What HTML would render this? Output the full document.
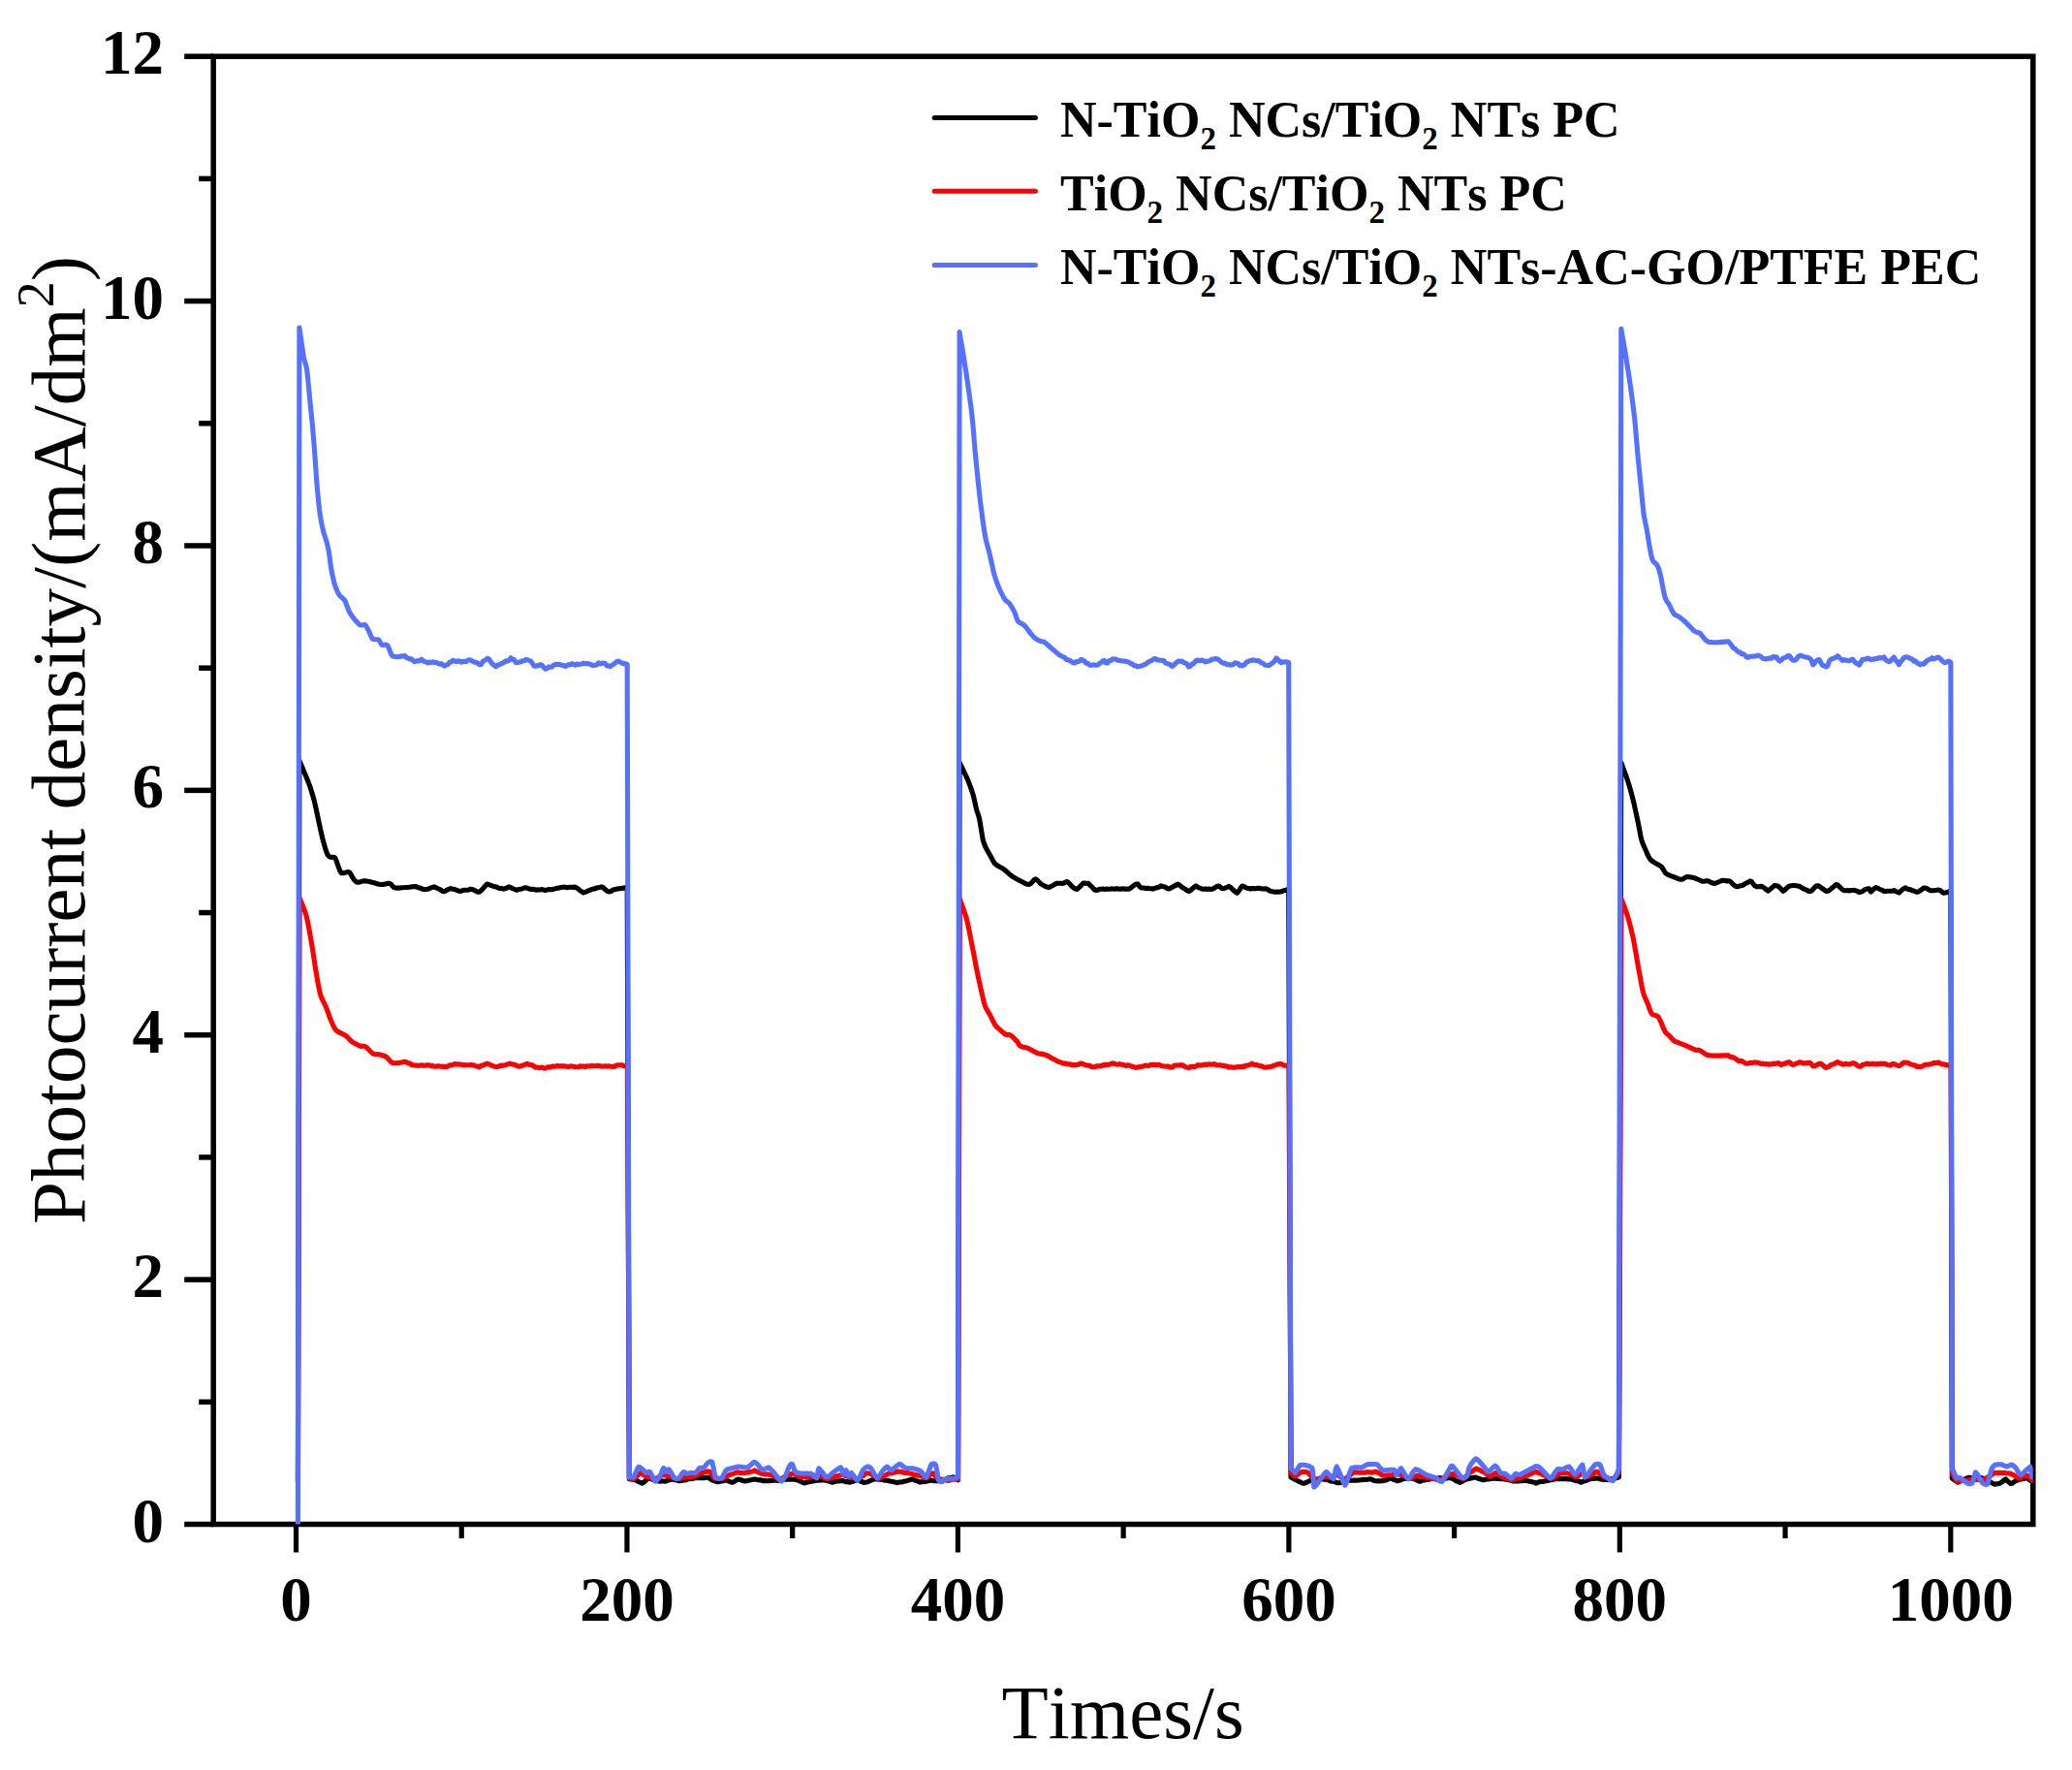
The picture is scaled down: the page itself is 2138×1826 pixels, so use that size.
<!DOCTYPE html>
<html lang="en"><head><meta charset="utf-8"><title>Photocurrent density vs time</title>
<style>
html,body{margin:0;padding:0;background:#fff;}
body{width:2138px;height:1826px;overflow:hidden;}
svg{display:block;}
text{font-kerning:none;font-variant-ligatures:none;}
.tk{font-family:"Liberation Serif",serif;font-weight:bold;font-size:65px;fill:#000;}
.lg{font-family:"Liberation Serif",serif;font-weight:bold;font-size:52px;fill:#000;}
.ax{font-family:"Liberation Serif",serif;font-weight:normal;font-size:79px;fill:#000;}
.ln{fill:none;stroke-width:5.1;stroke-linejoin:round;stroke-linecap:round;}
.fr{stroke:#000;stroke-width:5.5;fill:none;stroke-linecap:butt;}
</style></head><body>
<svg width="2138" height="1826" viewBox="0 0 2138 1826">
<rect x="0" y="0" width="2138" height="1826" fill="#ffffff"/>
<defs><clipPath id="plotclip"><rect x="220.2" y="58.2" width="1877.6" height="1514.3"/></clipPath></defs>
<g class="fr">
<rect x="220.2" y="58.2" width="1877.6" height="1514.3"/>
<line x1="190.2" y1="1572.50" x2="220.2" y2="1572.50"/>
<line x1="205.2" y1="1446.31" x2="220.2" y2="1446.31"/>
<line x1="190.2" y1="1320.12" x2="220.2" y2="1320.12"/>
<line x1="205.2" y1="1193.92" x2="220.2" y2="1193.92"/>
<line x1="190.2" y1="1067.73" x2="220.2" y2="1067.73"/>
<line x1="205.2" y1="941.54" x2="220.2" y2="941.54"/>
<line x1="190.2" y1="815.35" x2="220.2" y2="815.35"/>
<line x1="205.2" y1="689.16" x2="220.2" y2="689.16"/>
<line x1="190.2" y1="562.97" x2="220.2" y2="562.97"/>
<line x1="205.2" y1="436.78" x2="220.2" y2="436.78"/>
<line x1="190.2" y1="310.58" x2="220.2" y2="310.58"/>
<line x1="205.2" y1="184.39" x2="220.2" y2="184.39"/>
<line x1="190.2" y1="58.20" x2="220.2" y2="58.20"/>
<line x1="305.50" y1="1572.5" x2="305.50" y2="1601.5" stroke-width="5.2"/>
<line x1="476.23" y1="1572.5" x2="476.23" y2="1587.0" stroke-width="5.2"/>
<line x1="646.96" y1="1572.5" x2="646.96" y2="1601.5" stroke-width="5.2"/>
<line x1="817.69" y1="1572.5" x2="817.69" y2="1587.0" stroke-width="5.2"/>
<line x1="988.42" y1="1572.5" x2="988.42" y2="1601.5" stroke-width="5.2"/>
<line x1="1159.15" y1="1572.5" x2="1159.15" y2="1587.0" stroke-width="5.2"/>
<line x1="1329.88" y1="1572.5" x2="1329.88" y2="1601.5" stroke-width="5.2"/>
<line x1="1500.61" y1="1572.5" x2="1500.61" y2="1587.0" stroke-width="5.2"/>
<line x1="1671.34" y1="1572.5" x2="1671.34" y2="1601.5" stroke-width="5.2"/>
<line x1="1842.07" y1="1572.5" x2="1842.07" y2="1587.0" stroke-width="5.2"/>
<line x1="2012.80" y1="1572.5" x2="2012.80" y2="1601.5" stroke-width="5.2"/>
</g>
<g clip-path="url(#plotclip)">
<polyline class="ln" stroke="#000000" points="307.4,1528.0 308.9,784.9 311.5,790.8 314.1,796.9 316.5,802.7 318.4,807.5 320.0,811.9 321.5,816.6 322.9,821.3 324.1,825.5 325.2,830.1 326.4,835.6 327.6,841.1 328.6,845.9 329.6,850.7 330.8,856.3 332.1,861.8 333.1,866.2 334.2,870.1 335.4,874.4 336.6,878.2 337.6,880.9 338.5,882.4 339.3,883.3 340.2,883.9 341.0,884.3 342.0,884.4 343.3,884.3 344.5,884.2 345.5,884.7 346.4,886.3 347.3,888.7 348.2,891.3 348.9,893.3 349.6,895.2 350.4,897.4 351.3,899.4 352.3,900.6 354.0,900.7 356.2,900.2 358.5,899.6 360.2,899.7 361.3,900.7 362.3,902.4 363.2,904.3 364.1,905.8 365.0,907.0 366.1,908.4 367.4,909.6 368.6,910.3 370.1,910.2 372.1,909.6 374.2,909.0 376.0,908.7 377.8,908.9 379.9,909.3 382.1,909.8 384.0,910.3 386.0,910.8 388.4,911.5 390.9,912.2 393.0,912.5 395.1,912.4 397.7,911.9 400.1,911.4 402.0,911.4 403.4,912.2 404.6,913.6 405.9,915.1 407.7,915.9 410.8,916.1 415.3,915.8 419.6,915.5 422.4,915.3 424.1,915.0 425.8,914.7 427.5,914.6 429.2,914.6 430.9,915.4 432.6,916.0 434.3,916.3 436.0,917.3 437.7,917.6 439.4,917.5 441.2,917.2 442.9,916.7 444.6,915.9 446.3,915.4 448.0,914.9 449.7,915.6 451.4,916.5 453.1,917.2 454.8,918.1 456.5,919.3 458.2,919.8 459.9,919.0 461.6,917.9 463.3,917.3 465.1,916.5 466.8,917.2 468.5,917.2 470.2,918.1 471.9,918.4 473.6,919.3 475.3,919.4 477.0,918.8 478.7,918.3 480.4,918.3 482.1,918.2 483.8,917.9 485.5,917.2 487.3,917.5 489.0,918.2 490.7,919.1 492.4,920.0 494.1,920.3 495.8,919.3 497.5,917.6 499.2,915.7 500.9,913.8 502.6,912.0 504.3,912.5 506.0,913.3 507.7,913.8 509.4,914.5 511.2,914.8 512.9,915.3 514.6,916.2 516.3,916.5 518.0,916.6 519.7,917.2 521.4,916.5 523.1,916.0 524.8,914.9 526.5,915.2 528.2,916.3 529.9,917.0 531.6,917.7 533.3,918.3 535.1,917.5 536.8,917.3 538.5,916.9 540.2,916.4 541.9,915.7 543.6,916.1 545.3,916.7 547.0,917.2 548.7,917.4 550.4,917.4 552.1,917.9 553.8,918.1 555.5,917.9 557.2,918.0 559.0,917.6 560.7,917.9 562.4,918.5 564.1,918.2 565.8,917.6 567.5,917.6 569.2,917.7 570.9,917.3 572.6,916.9 574.3,916.4 576.0,916.3 577.7,915.7 579.4,915.5 581.2,915.3 582.9,915.1 584.6,915.6 586.3,915.5 588.0,915.3 589.7,915.2 591.4,915.4 593.1,915.1 594.8,915.8 596.5,916.9 598.2,918.5 599.9,919.4 601.6,920.9 603.3,920.5 605.1,919.9 606.8,919.0 608.5,918.3 610.2,917.8 611.9,917.0 613.6,917.0 615.3,916.0 617.0,915.9 618.7,915.4 620.4,914.9 622.1,915.2 623.8,917.1 625.5,918.4 627.2,919.6 629.0,920.0 630.7,919.3 632.4,918.1 634.1,917.8 635.8,917.2 637.5,916.9 639.2,916.7 640.9,916.4 642.6,916.2 644.3,915.9 646.0,915.9 647.2,915.5 649.3,1525.8 655.7,1526.7 657.4,1527.8 659.1,1528.7 660.8,1529.3 662.5,1530.1 664.2,1529.3 665.9,1527.7 667.6,1526.2 669.3,1525.0 671.0,1525.4 672.7,1526.1 674.5,1526.7 676.2,1527.2 677.9,1527.8 679.6,1528.0 681.3,1528.1 683.0,1527.9 684.7,1528.0 686.4,1528.3 688.1,1527.6 689.8,1526.9 691.5,1526.6 693.2,1526.0 694.9,1526.3 696.7,1526.8 698.4,1527.0 700.1,1527.6 701.8,1527.8 703.5,1527.5 705.2,1526.9 706.9,1527.0 708.6,1526.5 710.3,1525.6 712.0,1525.7 713.7,1525.5 715.4,1525.2 717.1,1524.8 718.8,1524.7 720.6,1524.7 722.3,1524.8 724.0,1524.5 725.7,1524.6 727.4,1524.6 729.1,1524.1 730.8,1524.2 732.5,1525.4 734.2,1526.5 735.9,1527.4 737.6,1527.9 739.3,1528.5 741.0,1528.8 742.7,1528.3 744.5,1527.9 746.2,1527.7 747.9,1527.2 749.6,1527.0 751.3,1527.8 753.0,1528.5 754.7,1529.2 756.4,1529.2 758.1,1528.1 759.8,1527.0 761.5,1526.0 763.2,1526.2 764.9,1527.0 766.7,1527.5 768.4,1528.0 770.1,1527.9 771.8,1527.4 773.5,1527.0 775.2,1526.7 776.9,1526.3 778.6,1526.0 780.3,1526.3 782.0,1526.7 783.7,1526.9 785.4,1526.9 787.1,1527.6 788.8,1527.5 790.6,1527.8 792.3,1527.8 794.0,1527.6 795.7,1527.5 797.4,1527.4 799.1,1527.3 800.8,1527.2 802.5,1527.6 804.2,1527.1 805.9,1526.8 807.6,1526.7 809.3,1526.0 811.0,1526.2 812.7,1526.0 814.5,1526.1 816.2,1526.1 817.9,1526.3 819.6,1526.3 821.3,1526.5 823.0,1527.1 824.7,1527.4 826.4,1528.5 828.1,1529.3 829.8,1529.9 831.5,1529.5 833.2,1529.0 834.9,1528.9 836.6,1528.4 838.4,1528.1 840.1,1527.7 841.8,1527.4 843.5,1527.3 845.2,1527.1 846.9,1526.9 848.6,1527.0 850.3,1527.0 852.0,1527.2 853.7,1527.6 855.4,1528.1 857.1,1528.7 858.8,1529.2 860.6,1528.8 862.3,1528.2 864.0,1528.0 865.7,1527.9 867.4,1527.6 869.1,1527.6 870.8,1527.9 872.5,1528.6 874.2,1528.5 875.9,1529.1 877.6,1529.0 879.3,1528.4 881.0,1528.0 882.7,1527.3 884.5,1526.8 886.2,1527.1 887.9,1528.2 889.6,1528.6 891.3,1529.4 893.0,1529.2 894.7,1529.0 896.4,1528.2 898.1,1527.5 899.8,1526.8 901.5,1525.7 903.2,1526.0 904.9,1525.8 906.6,1526.3 908.4,1526.2 910.1,1526.4 911.8,1526.9 913.5,1527.2 915.2,1527.2 916.9,1527.8 918.6,1528.1 920.3,1528.3 922.0,1528.8 923.7,1529.1 925.4,1529.7 927.1,1529.3 928.8,1529.0 930.6,1529.0 932.3,1528.3 934.0,1528.0 935.7,1527.8 937.4,1527.0 939.1,1526.7 940.8,1526.1 942.5,1526.0 944.2,1527.3 945.9,1527.7 947.6,1528.3 949.3,1529.1 951.0,1528.8 952.7,1528.8 954.5,1528.5 956.2,1528.0 957.9,1527.8 959.6,1527.4 961.3,1527.1 963.0,1527.6 964.7,1527.7 966.4,1527.6 968.1,1527.7 969.8,1527.8 971.5,1527.2 973.2,1526.9 974.9,1526.5 976.6,1525.7 978.4,1524.9 980.1,1524.7 981.8,1524.4 983.5,1523.8 985.2,1524.5 986.9,1525.5 988.5,1526.8 990.1,786.7 992.3,791.2 994.6,795.9 996.7,800.3 998.4,804.1 999.9,807.8 1001.5,812.1 1002.9,816.3 1004.1,819.9 1005.0,823.4 1005.9,827.5 1006.7,831.4 1007.5,834.6 1008.2,837.2 1009.2,839.9 1010.1,842.8 1010.8,845.9 1011.6,850.3 1012.5,856.2 1013.5,862.0 1014.2,866.2 1015.0,869.0 1015.9,871.4 1016.8,873.4 1017.6,875.3 1018.6,877.1 1019.8,879.3 1021.1,881.4 1022.1,883.2 1023.1,885.0 1024.2,887.2 1025.4,889.4 1026.7,891.1 1028.5,892.5 1031.0,894.0 1033.6,895.4 1035.7,896.7 1037.6,898.3 1039.7,900.1 1041.7,902.0 1043.6,903.5 1045.6,904.8 1048.1,906.2 1050.5,907.6 1052.7,908.7 1054.8,909.8 1057.3,911.2 1059.7,912.2 1061.7,912.5 1063.4,911.6 1065.3,909.7 1067.0,907.8 1068.5,906.9 1069.8,907.5 1071.2,908.9 1072.7,910.6 1074.1,911.9 1075.8,912.9 1078.0,914.1 1080.2,915.1 1082.0,915.5 1083.9,914.9 1086.1,913.6 1088.2,912.3 1089.9,911.4 1091.5,911.2 1093.2,911.2 1094.6,911.3 1095.6,911.4 1097.3,911.2 1099.0,910.3 1100.7,909.4 1102.4,910.5 1104.1,912.2 1105.8,914.2 1107.5,915.6 1109.3,916.8 1111.0,917.4 1112.7,916.1 1114.4,914.6 1116.1,912.9 1117.8,911.0 1119.5,911.1 1121.2,911.2 1122.9,911.4 1124.6,913.1 1126.3,914.6 1128.0,916.4 1129.7,918.1 1131.4,918.5 1133.2,918.1 1134.9,917.3 1136.6,917.3 1138.3,917.1 1140.0,917.4 1141.7,917.1 1143.4,917.3 1145.1,917.3 1146.8,916.9 1148.5,917.0 1150.2,917.3 1151.9,916.7 1153.6,917.1 1155.3,917.0 1157.1,917.1 1158.8,916.8 1160.5,917.2 1162.2,917.0 1163.9,917.1 1165.6,916.9 1167.3,915.7 1169.0,914.2 1170.7,913.0 1172.4,912.1 1174.1,912.0 1175.8,914.5 1177.5,915.9 1179.3,916.0 1181.0,916.1 1182.7,916.6 1184.4,916.3 1186.1,916.6 1187.8,916.8 1189.5,917.1 1191.2,916.4 1192.9,916.0 1194.6,915.6 1196.3,915.0 1198.0,913.8 1199.7,914.4 1201.4,914.7 1203.2,915.7 1204.9,916.7 1206.6,917.0 1208.3,915.8 1210.0,915.1 1211.7,914.0 1213.4,913.4 1215.1,912.1 1216.8,912.8 1218.5,914.3 1220.2,915.6 1221.9,916.7 1223.6,917.6 1225.3,918.9 1227.1,919.5 1228.8,918.3 1230.5,916.6 1232.2,915.3 1233.9,913.9 1235.6,915.0 1237.3,915.9 1239.0,916.4 1240.7,917.3 1242.4,917.2 1244.1,916.9 1245.8,917.4 1247.5,917.1 1249.3,917.4 1251.0,917.2 1252.7,916.4 1254.4,915.2 1256.1,914.3 1257.8,914.0 1259.5,915.5 1261.2,916.7 1262.9,916.4 1264.6,916.0 1266.3,915.2 1268.0,914.4 1269.7,915.2 1271.4,917.1 1273.2,918.9 1274.9,920.2 1276.6,921.3 1278.3,919.1 1280.0,916.4 1281.7,914.1 1283.4,914.5 1285.1,915.5 1286.8,916.3 1288.5,916.5 1290.2,917.0 1291.9,916.6 1293.6,916.6 1295.3,916.7 1297.1,916.4 1298.8,916.3 1300.5,916.6 1302.2,916.9 1303.9,917.0 1305.6,916.8 1307.3,917.3 1309.0,918.3 1310.7,919.3 1312.4,919.6 1314.1,920.0 1315.8,920.2 1317.5,919.9 1319.2,920.2 1321.0,919.9 1322.7,919.7 1324.4,918.9 1326.1,918.4 1327.8,918.1 1329.7,917.1 1332.0,1524.0 1337.5,1526.9 1339.2,1527.7 1340.9,1528.7 1342.6,1529.4 1344.3,1530.3 1346.0,1530.1 1347.8,1529.4 1349.5,1528.5 1351.2,1527.8 1352.9,1527.0 1354.6,1526.6 1356.3,1526.7 1358.0,1526.3 1359.7,1526.2 1361.4,1525.9 1363.1,1526.0 1364.8,1525.9 1366.5,1526.2 1368.2,1526.4 1369.9,1526.7 1371.7,1527.5 1373.4,1527.9 1375.1,1528.3 1376.8,1528.4 1378.5,1529.3 1380.2,1529.7 1381.9,1529.8 1383.6,1529.5 1385.3,1529.2 1387.0,1528.5 1388.7,1528.4 1390.4,1527.7 1392.1,1527.3 1393.9,1527.2 1395.6,1527.3 1397.3,1527.1 1399.0,1527.3 1400.7,1527.1 1402.4,1527.0 1404.1,1526.8 1405.8,1526.6 1407.5,1526.4 1409.2,1526.5 1410.9,1526.2 1412.6,1526.0 1414.3,1525.9 1416.0,1526.6 1417.8,1527.4 1419.5,1527.8 1421.2,1527.9 1422.9,1527.7 1424.6,1527.9 1426.3,1527.8 1428.0,1527.3 1429.7,1527.2 1431.4,1526.4 1433.1,1525.5 1434.8,1524.8 1436.5,1525.6 1438.2,1526.4 1439.9,1527.0 1441.7,1527.8 1443.4,1527.3 1445.1,1526.9 1446.8,1526.2 1448.5,1525.5 1450.2,1525.5 1451.9,1525.2 1453.6,1525.3 1455.3,1525.0 1457.0,1525.0 1458.7,1525.7 1460.4,1526.0 1462.1,1527.0 1463.8,1527.9 1465.6,1528.2 1467.3,1527.3 1469.0,1527.0 1470.7,1526.9 1472.4,1526.4 1474.1,1526.4 1475.8,1525.8 1477.5,1525.5 1479.2,1525.5 1480.9,1525.2 1482.6,1525.3 1484.3,1524.9 1486.0,1524.9 1487.8,1525.0 1489.5,1525.2 1491.2,1525.1 1492.9,1524.9 1494.6,1524.7 1496.3,1524.8 1498.0,1525.1 1499.7,1525.9 1501.4,1527.0 1503.1,1528.1 1504.8,1528.6 1506.5,1529.5 1508.2,1528.6 1509.9,1527.5 1511.7,1526.6 1513.4,1525.9 1515.1,1525.7 1516.8,1525.3 1518.5,1524.6 1520.2,1524.7 1521.9,1524.0 1523.6,1524.2 1525.3,1525.3 1527.0,1525.8 1528.7,1526.3 1530.4,1526.7 1532.1,1526.4 1533.8,1526.0 1535.6,1526.0 1537.3,1525.7 1539.0,1525.5 1540.7,1525.2 1542.4,1525.1 1544.1,1525.4 1545.8,1525.2 1547.5,1525.6 1549.2,1525.5 1550.9,1525.6 1552.6,1525.9 1554.3,1526.4 1556.0,1526.5 1557.8,1527.0 1559.5,1527.2 1561.2,1527.9 1562.9,1527.8 1564.6,1527.9 1566.3,1528.1 1568.0,1527.8 1569.7,1527.5 1571.4,1527.6 1573.1,1527.3 1574.8,1527.4 1576.5,1527.8 1578.2,1528.2 1579.9,1528.5 1581.7,1529.0 1583.4,1529.3 1585.1,1530.1 1586.8,1529.3 1588.5,1528.8 1590.2,1528.5 1591.9,1528.4 1593.6,1528.2 1595.3,1527.6 1597.0,1527.5 1598.7,1527.1 1600.4,1526.8 1602.1,1526.3 1603.8,1525.9 1605.6,1525.6 1607.3,1525.6 1609.0,1525.5 1610.7,1525.8 1612.4,1525.6 1614.1,1525.6 1615.8,1525.6 1617.5,1525.9 1619.2,1525.8 1620.9,1525.9 1622.6,1526.5 1624.3,1526.9 1626.0,1527.6 1627.8,1527.7 1629.5,1528.2 1631.2,1529.2 1632.9,1528.7 1634.6,1527.9 1636.3,1527.6 1638.0,1526.8 1639.7,1526.2 1641.4,1525.6 1643.1,1525.2 1644.8,1525.5 1646.5,1525.0 1648.2,1525.0 1649.9,1525.5 1651.7,1526.0 1653.4,1526.2 1655.1,1526.6 1656.8,1526.3 1658.5,1526.6 1660.2,1526.5 1661.9,1526.2 1663.6,1525.8 1665.3,1525.2 1667.0,1525.0 1668.7,1524.4 1670.4,1524.0 1672.8,786.7 1674.5,791.4 1676.4,796.3 1678.1,801.0 1679.5,805.2 1680.9,809.8 1682.5,815.3 1684.0,820.8 1685.2,825.5 1686.3,830.2 1687.5,835.7 1688.7,841.2 1689.7,845.9 1690.7,850.7 1691.8,856.5 1692.8,862.0 1693.8,866.2 1694.8,869.4 1696.0,872.4 1697.3,875.2 1698.3,877.5 1699.3,879.8 1700.4,882.4 1701.6,884.7 1702.8,886.6 1704.4,888.0 1706.4,889.3 1708.5,890.6 1710.1,891.5 1711.3,892.2 1712.5,892.9 1713.6,893.6 1714.6,894.5 1715.6,895.9 1716.7,897.8 1717.9,899.8 1719.1,901.2 1720.7,902.2 1722.9,903.1 1725.1,904.0 1727.0,904.6 1728.9,905.4 1731.1,906.3 1733.2,907.0 1734.9,907.3 1736.3,907.0 1737.7,906.1 1739.2,905.1 1740.6,904.6 1742.3,904.6 1744.4,904.9 1746.6,905.3 1748.5,905.8 1750.3,906.5 1752.5,907.5 1754.7,908.5 1756.4,909.2 1757.8,909.2 1759.3,909.0 1760.7,908.7 1762.0,908.7 1763.5,909.3 1765.3,910.2 1767.2,911.1 1768.8,911.4 1770.7,911.0 1773.1,910.0 1775.3,909.0 1776.7,908.3 1778.4,908.4 1780.1,908.5 1781.8,908.9 1783.6,908.7 1785.3,909.3 1787.0,911.0 1788.7,912.7 1790.4,913.9 1792.1,914.8 1793.8,914.4 1795.5,913.8 1797.2,913.8 1798.9,912.9 1800.6,911.7 1802.3,910.9 1804.0,910.0 1805.7,909.0 1807.5,909.7 1809.2,912.1 1810.9,914.0 1812.6,914.7 1814.3,914.8 1816.0,914.6 1817.7,914.4 1819.4,915.2 1821.1,916.5 1822.8,918.0 1824.5,919.2 1826.2,917.7 1827.9,916.1 1829.6,914.7 1831.4,913.4 1833.1,913.7 1834.8,914.3 1836.5,915.7 1838.2,917.5 1839.9,919.3 1841.6,918.2 1843.3,916.4 1845.0,915.0 1846.7,914.0 1848.4,913.7 1850.1,913.5 1851.8,913.5 1853.6,913.8 1855.3,914.0 1857.0,914.5 1858.7,915.5 1860.4,916.6 1862.1,917.4 1863.8,917.9 1865.5,919.0 1867.2,919.6 1868.9,919.3 1870.6,917.6 1872.3,915.7 1874.0,914.1 1875.7,913.7 1877.5,914.5 1879.2,915.9 1880.9,917.0 1882.6,918.1 1884.3,919.4 1886.0,919.5 1887.7,918.3 1889.4,916.8 1891.1,915.6 1892.8,914.1 1894.5,912.5 1896.2,912.9 1897.9,914.8 1899.6,916.2 1901.4,918.0 1903.1,918.7 1904.8,918.7 1906.5,918.6 1908.2,918.9 1909.9,918.5 1911.6,918.5 1913.3,918.4 1915.0,918.9 1916.7,919.5 1918.4,920.5 1920.1,920.2 1921.8,919.6 1923.6,918.1 1925.3,917.4 1927.0,916.9 1928.7,916.9 1930.4,920.1 1932.1,918.5 1933.8,916.8 1935.5,915.6 1937.2,916.1 1938.9,917.0 1940.6,917.8 1942.3,918.4 1944.0,919.5 1945.7,919.5 1947.5,919.3 1949.2,919.2 1950.9,919.2 1952.6,919.3 1954.3,918.6 1956.0,919.4 1957.7,920.2 1959.4,921.0 1961.1,919.5 1962.8,917.9 1964.5,916.7 1966.2,915.9 1967.9,917.0 1969.6,917.6 1971.4,917.8 1973.1,918.8 1974.8,919.1 1976.5,919.8 1978.2,920.4 1979.9,919.9 1981.6,918.5 1983.3,917.4 1985.0,916.1 1986.7,916.1 1988.4,916.7 1990.1,917.8 1991.8,918.7 1993.6,918.8 1995.3,918.7 1997.0,918.5 1998.7,918.3 2000.4,918.1 2002.1,918.7 2003.8,920.2 2005.5,921.2 2007.2,920.9 2008.9,920.7 2010.6,919.9 2012.9,919.3 2014.3,1525.2 2020.1,1529.2 2021.8,1528.2 2023.5,1527.5 2025.2,1526.7 2026.9,1526.1 2028.7,1525.5 2030.4,1524.6 2032.1,1524.2 2033.8,1524.5 2035.5,1524.7 2037.2,1524.3 2038.9,1524.5 2040.6,1524.5 2042.3,1524.4 2044.0,1524.6 2045.7,1524.9 2047.4,1525.6 2049.1,1526.5 2050.8,1527.8 2052.6,1528.6 2054.3,1529.3 2056.0,1530.2 2057.7,1531.1 2059.4,1531.1 2061.1,1530.8 2062.8,1530.5 2064.5,1529.7 2066.2,1528.6 2067.9,1526.9 2069.6,1525.9 2071.3,1527.7 2073.0,1529.1 2074.7,1530.7 2076.5,1530.1 2078.2,1528.8 2079.9,1527.7 2081.6,1527.2 2083.3,1526.5 2085.0,1526.0 2086.7,1525.7 2088.4,1525.4 2090.1,1525.0 2091.8,1524.5 2093.5,1526.2 2095.2,1527.5 2096.9,1527.8 2098.7,1528.0 2100.0,1527.5"/>
<polyline class="ln" stroke="#ff0000" points="307.5,1526.0 309.1,926.1 311.0,930.9 312.9,935.7 314.7,940.5 316.2,945.3 317.6,951.5 319.1,959.5 320.6,967.7 321.8,974.7 322.9,981.6 324.1,989.7 325.3,997.7 326.3,1004.1 327.4,1009.9 328.5,1016.2 329.7,1022.1 330.8,1026.7 332.1,1030.1 333.7,1033.4 335.2,1036.4 336.5,1039.1 337.6,1042.0 338.8,1045.4 339.9,1048.7 341.0,1051.5 342.2,1054.3 343.6,1057.5 345.1,1060.6 346.7,1062.8 348.8,1064.4 351.8,1065.9 354.7,1067.3 356.8,1068.5 358.3,1069.8 359.7,1071.3 361.1,1072.9 362.5,1074.1 364.4,1075.4 367.0,1076.9 369.6,1078.2 371.5,1079.1 373.0,1079.4 374.4,1079.3 375.8,1079.3 377.2,1079.8 378.9,1081.2 381.1,1083.5 383.3,1085.8 385.1,1087.2 386.5,1087.7 387.9,1087.7 389.3,1087.6 390.7,1087.7 392.5,1088.1 394.6,1088.7 396.8,1089.5 398.6,1090.4 400.2,1091.8 401.8,1093.8 403.6,1095.6 405.4,1096.7 408.2,1096.8 412.0,1096.4 415.6,1095.7 417.9,1095.3 419.6,1095.9 421.3,1096.7 423.0,1097.1 424.7,1098.7 426.4,1098.8 428.1,1099.1 429.8,1099.1 431.5,1099.2 433.2,1099.2 434.9,1098.8 436.6,1099.3 438.3,1099.4 440.0,1098.9 441.8,1098.9 443.5,1098.9 445.2,1099.9 446.9,1099.6 448.6,1100.3 450.3,1100.1 452.0,1099.8 453.7,1099.9 455.4,1100.2 457.1,1100.4 458.8,1100.4 460.5,1100.6 462.2,1099.9 464.0,1098.9 465.7,1098.9 467.4,1098.4 469.1,1097.5 470.8,1098.1 472.5,1097.7 474.2,1098.1 475.9,1098.1 477.6,1098.7 479.3,1098.6 481.0,1098.8 482.7,1098.7 484.4,1098.7 486.1,1098.4 487.9,1098.8 489.6,1099.2 491.3,1100.0 493.0,1100.1 494.7,1101.0 496.4,1099.4 498.1,1099.2 499.8,1098.4 501.5,1097.6 503.2,1097.3 504.9,1098.0 506.6,1098.9 508.3,1099.5 510.0,1100.2 511.8,1100.5 513.5,1100.5 515.2,1099.9 516.9,1099.1 518.6,1099.4 520.3,1098.9 522.0,1098.5 523.7,1097.9 525.4,1097.3 527.1,1097.6 528.8,1097.9 530.5,1098.3 532.2,1098.7 533.9,1099.8 535.7,1100.3 537.4,1099.7 539.1,1099.2 540.8,1098.5 542.5,1098.1 544.2,1097.3 545.9,1098.5 547.6,1098.5 549.3,1098.8 551.0,1100.2 552.7,1101.3 554.4,1101.0 556.1,1101.7 557.9,1101.2 559.6,1101.1 561.3,1102.2 563.0,1102.0 564.7,1101.1 566.4,1100.9 568.1,1101.0 569.8,1100.1 571.5,1100.1 573.2,1100.2 574.9,1099.5 576.6,1100.0 578.3,1099.7 580.0,1099.9 581.8,1099.7 583.5,1100.1 585.2,1100.5 586.9,1100.5 588.6,1099.8 590.3,1100.1 592.0,1100.2 593.7,1100.7 595.4,1100.8 597.1,1100.7 598.8,1099.8 600.5,1100.2 602.2,1100.0 603.9,1100.5 605.7,1099.8 607.4,1100.0 609.1,1099.9 610.8,1099.4 612.5,1099.8 614.2,1099.8 615.9,1099.5 617.6,1099.4 619.3,1099.7 621.0,1100.2 622.7,1100.0 624.4,1099.9 626.1,1100.1 627.9,1099.8 629.6,1100.1 631.3,1100.2 633.0,1100.5 634.7,1100.0 636.4,1098.9 638.1,1098.8 639.8,1098.8 641.5,1098.7 643.2,1099.4 644.9,1099.8 647.4,1100.1 649.5,1524.9 653.8,1525.9 655.5,1524.1 657.3,1522.5 659.0,1521.1 660.7,1519.6 662.4,1520.6 664.1,1521.6 665.8,1522.5 667.5,1523.5 669.2,1523.9 670.9,1524.4 672.6,1525.2 674.3,1525.3 676.0,1525.9 677.7,1524.8 679.5,1524.2 681.2,1522.9 682.9,1522.0 684.6,1521.3 686.3,1521.9 688.0,1522.4 689.7,1523.2 691.4,1523.2 693.1,1523.8 694.8,1524.8 696.5,1525.1 698.2,1526.0 699.9,1525.6 701.6,1525.4 703.4,1525.0 705.1,1524.4 706.8,1524.2 708.5,1523.7 710.2,1523.6 711.9,1523.8 713.6,1523.7 715.3,1523.0 717.0,1522.5 718.7,1522.0 720.4,1521.1 722.1,1520.3 723.8,1519.7 725.5,1519.2 727.3,1518.7 729.0,1518.1 730.7,1517.9 732.4,1518.3 734.1,1520.7 735.8,1523.1 737.5,1525.2 739.2,1525.0 740.9,1525.2 742.6,1525.4 744.3,1525.6 746.0,1525.4 747.7,1524.4 749.5,1523.7 751.2,1522.2 752.9,1521.4 754.6,1520.8 756.3,1520.4 758.0,1519.8 759.7,1519.1 761.4,1518.7 763.1,1519.4 764.8,1519.3 766.5,1519.6 768.2,1519.7 769.9,1519.1 771.6,1519.2 773.4,1518.4 775.1,1518.3 776.8,1517.9 778.5,1516.9 780.2,1517.7 781.9,1518.6 783.6,1519.2 785.3,1520.2 787.0,1520.3 788.7,1520.9 790.4,1521.1 792.1,1520.8 793.8,1521.4 795.5,1521.4 797.3,1522.4 799.0,1523.4 800.7,1524.2 802.4,1525.6 804.1,1525.7 805.8,1525.5 807.5,1524.7 809.2,1523.8 810.9,1523.2 812.6,1522.1 814.3,1521.5 816.0,1520.8 817.7,1520.3 819.4,1520.1 821.2,1521.3 822.9,1522.5 824.6,1523.6 826.3,1523.5 828.0,1523.6 829.7,1523.6 831.4,1523.9 833.1,1524.0 834.8,1523.9 836.5,1524.0 838.2,1523.9 839.9,1523.3 841.6,1522.5 843.4,1522.1 845.1,1522.1 846.8,1523.0 848.5,1523.9 850.2,1524.4 851.9,1525.2 853.6,1525.5 855.3,1525.4 857.0,1525.1 858.7,1524.3 860.4,1523.8 862.1,1523.2 863.8,1522.8 865.5,1522.3 867.3,1521.9 869.0,1521.6 870.7,1522.1 872.4,1522.2 874.1,1522.7 875.8,1523.9 877.5,1524.1 879.2,1524.1 880.9,1524.8 882.6,1525.1 884.3,1525.7 886.0,1525.4 887.7,1524.2 889.4,1523.0 891.2,1522.1 892.9,1520.2 894.6,1519.8 896.3,1520.0 898.0,1520.3 899.7,1520.8 901.4,1522.4 903.1,1523.2 904.8,1524.5 906.5,1525.6 908.2,1524.5 909.9,1524.1 911.6,1522.7 913.4,1522.1 915.1,1521.1 916.8,1520.1 918.5,1519.8 920.2,1519.9 921.9,1519.3 923.6,1518.6 925.3,1518.5 927.0,1517.9 928.7,1518.2 930.4,1518.4 932.1,1519.0 933.8,1519.4 935.5,1519.3 937.3,1519.8 939.0,1520.1 940.7,1520.4 942.4,1521.2 944.1,1521.3 945.8,1521.9 947.5,1522.1 949.2,1522.2 950.9,1522.9 952.6,1523.7 954.3,1524.3 956.0,1524.8 957.7,1523.7 959.4,1521.5 961.2,1520.0 962.9,1519.9 964.6,1522.0 966.3,1524.3 968.0,1525.6 969.7,1525.8 971.4,1526.3 973.1,1526.3 974.8,1526.8 976.5,1527.1 978.2,1527.5 979.9,1527.0 981.6,1526.6 983.4,1526.3 985.1,1525.9 986.8,1526.1 988.7,1525.8 990.3,927.2 992.1,932.4 994.0,937.6 995.8,942.7 997.3,947.6 998.7,953.4 1000.2,960.7 1001.7,968.2 1002.9,974.7 1004.3,981.5 1005.8,989.7 1007.3,997.7 1008.6,1004.1 1009.7,1009.4 1011.0,1015.0 1012.1,1020.3 1013.1,1024.4 1013.9,1028.0 1014.7,1031.7 1015.6,1035.1 1016.5,1038.0 1017.7,1040.5 1019.3,1043.3 1020.9,1045.9 1022.1,1048.1 1023.2,1050.4 1024.4,1052.9 1025.6,1055.3 1026.7,1057.2 1027.9,1058.7 1029.4,1060.2 1031.0,1061.6 1032.3,1062.8 1033.6,1064.0 1035.2,1065.3 1036.7,1066.5 1038.0,1067.3 1039.0,1067.6 1040.2,1067.5 1041.3,1067.4 1042.5,1067.8 1044.0,1069.0 1045.9,1070.7 1047.8,1072.6 1049.3,1074.1 1050.2,1075.4 1050.9,1076.8 1051.7,1078.1 1052.7,1079.1 1054.2,1079.7 1056.3,1080.2 1058.5,1080.7 1060.6,1081.4 1062.8,1082.5 1065.6,1084.0 1068.5,1085.5 1070.7,1086.6 1072.7,1087.1 1074.9,1087.4 1076.9,1087.7 1078.6,1088.1 1080.3,1088.9 1082.1,1089.8 1083.9,1090.9 1085.4,1091.8 1087.1,1092.6 1089.2,1093.7 1091.0,1094.7 1092.2,1095.3 1093.9,1095.8 1095.6,1096.4 1097.3,1097.3 1099.0,1096.9 1100.7,1097.6 1102.4,1097.9 1104.2,1097.8 1105.9,1098.8 1107.6,1098.6 1109.3,1098.6 1111.0,1098.5 1112.7,1098.3 1114.4,1097.3 1116.1,1097.1 1117.8,1097.8 1119.5,1098.5 1121.2,1099.0 1122.9,1099.1 1124.6,1099.5 1126.3,1100.5 1128.1,1100.8 1129.8,1100.6 1131.5,1099.9 1133.2,1099.9 1134.9,1099.5 1136.6,1099.8 1138.3,1098.5 1140.0,1098.9 1141.7,1098.2 1143.4,1098.4 1145.1,1098.1 1146.8,1097.3 1148.5,1096.9 1150.3,1097.6 1152.0,1098.0 1153.7,1098.2 1155.4,1097.6 1157.1,1098.3 1158.8,1098.4 1160.5,1098.9 1162.2,1099.5 1163.9,1098.8 1165.6,1099.2 1167.3,1100.0 1169.0,1100.5 1170.7,1101.0 1172.4,1101.4 1174.2,1100.9 1175.9,1100.8 1177.6,1100.3 1179.3,1100.2 1181.0,1099.4 1182.7,1099.1 1184.4,1099.6 1186.1,1099.2 1187.8,1098.2 1189.5,1098.4 1191.2,1098.2 1192.9,1098.9 1194.6,1098.5 1196.3,1098.5 1198.1,1099.4 1199.8,1099.7 1201.5,1100.0 1203.2,1100.2 1204.9,1099.9 1206.6,1100.7 1208.3,1101.2 1210.0,1100.9 1211.7,1099.2 1213.4,1099.0 1215.1,1099.0 1216.8,1098.9 1218.5,1098.7 1220.3,1098.9 1222.0,1100.1 1223.7,1101.0 1225.4,1101.2 1227.1,1101.7 1228.8,1100.3 1230.5,1100.3 1232.2,1100.7 1233.9,1100.1 1235.6,1098.9 1237.3,1098.7 1239.0,1099.1 1240.7,1098.6 1242.4,1098.5 1244.2,1098.1 1245.9,1098.4 1247.6,1097.8 1249.3,1098.1 1251.0,1098.1 1252.7,1097.6 1254.4,1098.5 1256.1,1098.7 1257.8,1098.7 1259.5,1098.8 1261.2,1099.4 1262.9,1099.3 1264.6,1099.9 1266.3,1100.1 1268.1,1101.2 1269.8,1100.8 1271.5,1101.2 1273.2,1101.0 1274.9,1101.1 1276.6,1100.6 1278.3,1100.5 1280.0,1100.8 1281.7,1100.3 1283.4,1100.6 1285.1,1099.3 1286.8,1099.2 1288.5,1098.8 1290.3,1098.2 1292.0,1097.2 1293.7,1098.5 1295.4,1098.6 1297.1,1098.6 1298.8,1099.3 1300.5,1099.9 1302.2,1099.7 1303.9,1101.0 1305.6,1101.2 1307.3,1100.9 1309.0,1100.8 1310.7,1100.5 1312.4,1100.3 1314.2,1099.4 1315.9,1098.9 1317.6,1098.0 1319.3,1097.9 1321.0,1097.5 1322.7,1097.7 1324.4,1099.0 1326.1,1099.2 1327.8,1099.5 1329.9,1099.7 1332.2,1519.4 1335.7,1523.1 1337.4,1522.2 1339.1,1521.2 1340.8,1519.9 1342.5,1518.7 1344.2,1518.5 1345.9,1518.4 1347.6,1518.5 1349.3,1518.9 1351.0,1520.6 1352.7,1522.8 1354.5,1524.8 1356.2,1526.4 1357.9,1525.8 1359.6,1525.6 1361.3,1525.3 1363.0,1524.4 1364.7,1524.0 1366.4,1524.2 1368.1,1523.8 1369.8,1523.6 1371.5,1523.9 1373.2,1523.5 1374.9,1522.8 1376.7,1522.4 1378.4,1521.5 1380.1,1521.4 1381.8,1522.6 1383.5,1524.0 1385.2,1525.1 1386.9,1527.0 1388.6,1525.7 1390.3,1523.7 1392.0,1522.8 1393.7,1521.3 1395.4,1519.9 1397.1,1518.9 1398.8,1518.9 1400.6,1519.0 1402.3,1519.3 1404.0,1519.0 1405.7,1519.3 1407.4,1519.3 1409.1,1518.9 1410.8,1518.6 1412.5,1518.8 1414.2,1519.1 1415.9,1519.1 1417.6,1518.6 1419.3,1518.2 1421.0,1518.9 1422.7,1519.7 1424.5,1520.6 1426.2,1521.8 1427.9,1522.3 1429.6,1522.1 1431.3,1522.0 1433.0,1521.8 1434.7,1521.7 1436.4,1521.5 1438.1,1521.2 1439.8,1521.0 1441.5,1520.9 1443.2,1520.9 1444.9,1521.1 1446.7,1521.6 1448.4,1522.7 1450.1,1523.4 1451.8,1524.4 1453.5,1525.4 1455.2,1525.3 1456.9,1524.5 1458.6,1523.7 1460.3,1523.0 1462.0,1522.2 1463.7,1522.5 1465.4,1522.6 1467.1,1523.6 1468.8,1523.6 1470.6,1524.1 1472.3,1524.5 1474.0,1524.7 1475.7,1524.9 1477.4,1525.2 1479.1,1525.4 1480.8,1525.7 1482.5,1526.6 1484.2,1526.6 1485.9,1526.7 1487.6,1526.0 1489.3,1524.4 1491.0,1523.8 1492.7,1522.8 1494.5,1521.9 1496.2,1521.0 1497.9,1520.9 1499.6,1520.3 1501.3,1520.5 1503.0,1521.8 1504.7,1522.4 1506.4,1523.8 1508.1,1525.0 1509.8,1525.9 1511.5,1524.2 1513.2,1522.4 1514.9,1521.0 1516.6,1519.3 1518.4,1518.3 1520.1,1517.1 1521.8,1515.9 1523.5,1515.1 1525.2,1515.9 1526.9,1516.6 1528.6,1517.6 1530.3,1518.4 1532.0,1519.2 1533.7,1520.4 1535.4,1521.6 1537.1,1523.1 1538.8,1522.5 1540.6,1521.2 1542.3,1519.9 1544.0,1519.3 1545.7,1520.7 1547.4,1521.9 1549.1,1523.0 1550.8,1523.9 1552.5,1524.8 1554.2,1524.8 1555.9,1525.6 1557.6,1526.1 1559.3,1526.5 1561.0,1526.7 1562.7,1525.9 1564.5,1525.5 1566.2,1525.0 1567.9,1524.9 1569.6,1524.1 1571.3,1523.5 1573.0,1522.5 1574.7,1522.5 1576.4,1521.8 1578.1,1521.2 1579.8,1520.5 1581.5,1519.4 1583.2,1518.9 1584.9,1518.3 1586.6,1519.3 1588.4,1519.7 1590.1,1520.2 1591.8,1521.3 1593.5,1522.1 1595.2,1522.6 1596.9,1523.8 1598.6,1524.7 1600.3,1525.4 1602.0,1525.0 1603.7,1523.8 1605.4,1523.1 1607.1,1521.9 1608.8,1520.8 1610.6,1519.9 1612.3,1519.4 1614.0,1519.6 1615.7,1520.0 1617.4,1519.9 1619.1,1520.4 1620.8,1520.8 1622.5,1521.6 1624.2,1523.2 1625.9,1523.8 1627.6,1523.0 1629.3,1522.2 1631.0,1521.1 1632.7,1520.4 1634.5,1520.4 1636.2,1521.9 1637.9,1523.7 1639.6,1523.2 1641.3,1521.8 1643.0,1521.1 1644.7,1520.0 1646.4,1518.5 1648.1,1518.3 1649.8,1519.6 1651.5,1520.8 1653.2,1522.3 1654.9,1523.6 1656.6,1524.0 1658.4,1524.5 1660.1,1525.3 1661.8,1525.9 1663.5,1526.2 1665.2,1525.1 1666.9,1523.2 1668.6,1521.3 1670.6,1519.4 1673.0,927.2 1674.7,931.8 1676.5,936.5 1678.1,941.0 1679.5,945.3 1680.9,950.1 1682.4,955.9 1683.9,962.1 1685.2,967.9 1686.5,974.9 1688.1,983.7 1689.6,992.5 1690.8,999.5 1692.0,1005.7 1693.2,1012.4 1694.3,1018.6 1695.4,1023.3 1696.4,1026.6 1697.6,1029.5 1698.8,1032.2 1699.9,1034.6 1700.9,1037.3 1702.0,1040.6 1703.2,1043.7 1704.4,1045.9 1705.8,1046.9 1707.7,1047.4 1709.6,1048.0 1711.2,1049.3 1712.8,1052.2 1714.7,1056.6 1716.5,1060.9 1718.0,1064.0 1719.1,1065.6 1720.3,1066.7 1721.4,1067.6 1722.5,1068.5 1723.6,1069.7 1725.0,1071.3 1726.5,1072.9 1728.1,1074.1 1730.5,1075.2 1733.6,1076.4 1736.8,1077.6 1739.4,1078.6 1742.0,1079.8 1744.9,1081.1 1747.6,1082.3 1749.6,1083.2 1750.9,1083.4 1751.9,1083.4 1752.9,1083.3 1754.1,1083.6 1755.7,1084.6 1757.9,1086.2 1760.4,1087.8 1763.2,1088.8 1767.6,1089.1 1773.8,1089.1 1779.7,1088.9 1783.5,1088.8 1785.2,1090.3 1786.9,1090.5 1788.6,1090.8 1790.3,1091.9 1792.0,1092.9 1793.7,1094.5 1795.5,1094.6 1797.2,1094.5 1798.9,1095.6 1800.6,1096.6 1802.3,1097.3 1804.0,1097.0 1805.7,1096.2 1807.4,1096.5 1809.1,1096.3 1810.8,1095.9 1812.5,1096.1 1814.2,1096.2 1815.9,1097.0 1817.6,1097.5 1819.4,1097.4 1821.1,1097.8 1822.8,1097.6 1824.5,1098.2 1826.2,1097.7 1827.9,1098.0 1829.6,1097.3 1831.3,1097.4 1833.0,1097.2 1834.7,1096.5 1836.4,1097.4 1838.1,1098.6 1839.8,1097.5 1841.6,1097.5 1843.3,1096.5 1845.0,1095.9 1846.7,1095.9 1848.4,1097.6 1850.1,1098.4 1851.8,1098.0 1853.5,1097.1 1855.2,1096.6 1856.9,1095.8 1858.6,1096.1 1860.3,1096.9 1862.0,1096.8 1863.7,1096.9 1865.5,1096.4 1867.2,1096.4 1868.9,1097.2 1870.6,1099.8 1872.3,1099.9 1874.0,1099.0 1875.7,1098.0 1877.4,1097.4 1879.1,1097.4 1880.8,1098.9 1882.5,1100.5 1884.2,1101.5 1885.9,1100.7 1887.6,1100.2 1889.4,1098.4 1891.1,1098.0 1892.8,1097.5 1894.5,1096.3 1896.2,1095.6 1897.9,1096.7 1899.6,1097.0 1901.3,1098.2 1903.0,1098.0 1904.7,1097.4 1906.4,1097.8 1908.1,1097.9 1909.8,1097.5 1911.6,1096.9 1913.3,1096.9 1915.0,1097.8 1916.7,1099.5 1918.4,1100.2 1920.1,1100.3 1921.8,1098.5 1923.5,1098.1 1925.2,1097.6 1926.9,1097.2 1928.6,1097.9 1930.3,1097.7 1932.0,1097.2 1933.7,1097.9 1935.5,1097.5 1937.2,1098.0 1938.9,1097.6 1940.6,1097.4 1942.3,1097.2 1944.0,1097.4 1945.7,1097.5 1947.4,1098.4 1949.1,1098.8 1950.8,1099.1 1952.5,1097.5 1954.2,1097.5 1955.9,1098.3 1957.6,1099.0 1959.4,1099.7 1961.1,1099.0 1962.8,1097.3 1964.5,1096.1 1966.2,1096.2 1967.9,1096.2 1969.6,1096.9 1971.3,1097.8 1973.0,1098.4 1974.7,1098.9 1976.4,1099.1 1978.1,1100.5 1979.8,1100.3 1981.5,1100.6 1983.3,1100.2 1985.0,1099.1 1986.7,1098.3 1988.4,1098.3 1990.1,1098.2 1991.8,1097.8 1993.5,1097.4 1995.2,1096.5 1996.9,1096.5 1998.6,1096.4 2000.3,1096.0 2002.0,1097.0 2003.7,1097.9 2005.5,1097.7 2007.2,1098.6 2008.9,1098.5 2010.6,1099.3 2013.1,1099.7 2014.5,1520.5 2019.0,1528.2 2020.7,1528.1 2022.4,1528.0 2024.1,1527.7 2025.8,1527.6 2027.5,1527.3 2029.2,1527.2 2030.9,1526.8 2032.6,1526.7 2034.3,1526.5 2036.0,1526.6 2037.7,1526.8 2039.4,1526.5 2041.2,1526.5 2042.9,1526.2 2044.6,1526.5 2046.3,1526.5 2048.0,1526.2 2049.7,1524.9 2051.4,1523.6 2053.1,1522.9 2054.8,1521.7 2056.5,1520.6 2058.2,1519.1 2059.9,1519.6 2061.6,1519.6 2063.3,1519.4 2065.1,1519.5 2066.8,1519.6 2068.5,1519.3 2070.2,1520.0 2071.9,1519.9 2073.6,1520.1 2075.3,1520.5 2077.0,1521.4 2078.7,1522.2 2080.4,1523.6 2082.1,1524.3 2083.8,1525.3 2085.5,1524.4 2087.2,1523.5 2089.0,1522.7 2090.7,1522.4 2092.4,1522.2 2094.1,1524.0 2095.8,1526.0 2097.5,1527.5 2099.2,1527.0 2100.2,1526.3"/>
<polyline class="ln" stroke="#5571ff" points="307.4,1575.5 308.9,338.1 310.1,346.3 311.4,355.0 312.5,362.8 313.4,368.6 314.3,372.2 315.1,374.9 315.9,377.5 316.6,381.0 317.3,386.9 318.1,394.9 318.9,403.3 319.5,410.4 320.2,417.1 321.0,424.9 321.8,432.7 322.5,439.8 323.1,447.4 323.9,456.6 324.6,465.9 325.2,473.7 325.7,481.2 326.3,489.9 326.9,498.4 327.5,505.3 328.1,511.6 328.8,518.5 329.5,525.1 330.2,530.2 330.8,534.4 331.6,538.8 332.4,542.8 333.1,546.0 333.9,548.9 334.8,551.9 335.7,554.8 336.5,557.3 337.2,559.7 337.9,562.5 338.6,565.5 339.2,568.6 339.9,572.9 340.6,578.6 341.4,584.4 342.1,588.9 342.9,592.7 343.8,596.8 344.7,600.6 345.5,603.6 346.5,606.3 347.7,609.2 348.9,611.8 350.1,613.8 351.3,615.2 352.9,616.6 354.4,617.9 355.7,619.4 356.8,621.8 358.0,625.0 359.2,628.3 360.2,630.7 361.2,632.5 362.4,634.3 363.6,636.0 364.7,637.5 366.2,639.3 368.1,641.5 370.0,643.5 371.5,644.7 372.8,645.0 374.3,644.8 375.6,644.5 376.7,644.7 377.7,645.8 378.7,647.5 379.7,649.4 380.6,651.1 381.4,652.9 382.4,655.3 383.4,657.5 384.4,659.0 385.8,659.5 387.6,659.7 389.4,659.8 390.7,660.1 391.6,661.2 392.5,662.7 393.3,664.3 394.1,665.3 395.3,665.5 396.8,665.2 398.4,665.1 399.8,665.8 401.0,668.0 402.3,671.5 403.7,674.9 405.4,677.1 408.1,677.6 411.9,677.4 415.6,676.9 417.9,676.6 419.6,678.5 421.3,679.1 423.0,679.9 424.7,679.9 426.4,681.8 428.1,682.6 429.8,681.7 431.5,682.0 433.2,681.4 434.9,680.2 436.6,681.7 438.3,682.6 440.0,682.9 441.8,684.0 443.5,683.0 445.2,683.4 446.9,682.9 448.6,683.5 450.3,683.3 452.0,684.5 453.7,685.1 455.4,684.6 457.1,686.2 458.8,687.1 460.5,685.7 462.2,685.5 464.0,683.3 465.7,682.8 467.4,681.2 469.1,682.0 470.8,682.5 472.5,681.9 474.2,682.1 475.9,683.1 477.6,682.3 479.3,682.4 481.0,682.5 482.7,681.2 484.4,680.8 486.1,681.3 487.9,682.3 489.6,683.2 491.3,683.3 493.0,684.2 494.7,685.6 496.4,685.5 498.1,682.5 499.8,681.5 501.5,680.3 503.2,679.1 504.9,680.4 506.6,683.0 508.3,685.2 510.0,686.4 511.8,687.7 513.5,686.2 515.2,685.6 516.9,684.8 518.6,684.1 520.3,683.2 522.0,681.8 523.7,682.0 525.4,681.0 527.1,678.6 528.8,680.4 530.5,680.6 532.2,683.4 533.9,683.7 535.7,683.1 537.4,682.8 539.1,681.8 540.8,681.8 542.5,680.3 544.2,680.7 545.9,681.4 547.6,681.9 549.3,684.3 551.0,686.9 552.7,687.3 554.4,686.6 556.1,686.5 557.9,685.5 559.6,686.7 561.3,688.8 563.0,690.1 564.7,689.5 566.4,687.9 568.1,688.3 569.8,687.6 571.5,686.0 573.2,685.2 574.9,685.5 576.6,685.3 578.3,685.8 580.0,686.4 581.8,686.5 583.5,687.5 585.2,686.3 586.9,685.8 588.6,685.8 590.3,684.7 592.0,685.6 593.7,686.2 595.4,684.9 597.1,685.8 598.8,685.0 600.5,685.0 602.2,684.0 603.9,684.8 605.7,684.6 607.4,684.7 609.1,685.3 610.8,686.2 612.5,686.4 614.2,686.3 615.9,685.8 617.6,683.8 619.3,684.7 621.0,684.2 622.7,684.0 624.4,684.5 626.1,686.7 627.9,686.9 629.6,687.7 631.3,686.5 633.0,685.3 634.7,684.0 636.4,682.4 638.1,682.1 639.8,683.0 641.5,683.9 643.2,684.7 644.9,684.5 647.2,685.6 649.3,1524.0 653.8,1524.0 655.7,1519.8 657.6,1515.7 659.0,1513.4 660.5,1513.8 662.5,1515.4 663.9,1516.7 664.8,1517.6 665.8,1518.8 666.7,1519.4 667.8,1519.1 669.4,1518.4 670.7,1518.5 672.2,1521.2 674.3,1525.5 675.8,1528.1 677.3,1527.6 679.1,1525.8 680.4,1524.0 681.8,1521.1 683.5,1516.9 684.7,1514.5 685.5,1515.3 686.5,1517.3 687.2,1518.5 688.0,1517.7 689.1,1516.2 690.2,1515.8 691.8,1518.2 694.2,1522.3 696.0,1524.9 697.5,1525.5 699.2,1525.4 700.6,1524.9 702.0,1523.1 703.8,1520.2 705.2,1518.5 706.3,1518.8 707.8,1519.7 708.9,1520.3 709.9,1520.2 711.3,1519.7 712.5,1519.4 714.2,1519.5 716.4,1519.6 718.0,1519.4 719.2,1518.0 720.6,1515.9 721.7,1514.5 723.1,1514.2 724.9,1514.2 726.3,1513.9 727.6,1512.5 729.2,1510.4 730.5,1509.0 731.9,1508.3 733.6,1507.8 734.9,1508.4 735.9,1512.8 737.1,1519.6 738.2,1524.0 740.1,1525.1 742.7,1525.4 744.6,1524.9 746.1,1522.7 747.8,1519.1 749.2,1516.7 750.8,1515.8 752.9,1515.3 754.7,1514.8 756.8,1514.2 759.7,1513.4 762.0,1513.0 764.8,1513.3 768.5,1513.9 771.2,1513.9 773.5,1512.4 776.2,1509.9 778.2,1508.4 779.5,1508.8 781.0,1510.0 782.2,1511.2 783.5,1512.9 785.3,1515.3 786.8,1516.7 788.7,1516.0 791.3,1514.6 793.2,1513.9 794.9,1515.2 797.0,1517.4 798.7,1519.4 800.9,1522.2 803.9,1526.0 806.1,1528.1 807.6,1527.0 809.4,1524.4 810.6,1522.2 811.8,1519.4 813.2,1515.6 814.3,1513.0 815.3,1511.6 816.4,1510.4 817.4,1510.3 818.4,1512.7 819.8,1516.7 821.7,1519.4 826.1,1520.0 832.7,1520.1 837.2,1520.3 839.4,1521.9 841.4,1524.1 842.7,1524.9 843.4,1522.1 844.1,1517.4 844.9,1514.8 847.1,1517.1 850.4,1521.4 852.8,1524.0 854.8,1523.3 857.2,1521.2 859.2,1519.4 861.8,1517.5 865.2,1515.0 867.5,1513.9 868.6,1515.9 869.5,1519.3 870.3,1521.3 871.1,1520.2 872.2,1517.8 873.0,1516.7 873.8,1518.4 874.9,1521.4 875.8,1523.1 876.5,1522.2 877.5,1520.3 878.5,1519.4 880.3,1521.7 882.9,1525.5 884.9,1527.3 886.7,1524.8 888.8,1520.0 890.4,1516.7 891.9,1515.1 893.7,1513.7 895.0,1513.0 896.1,1513.1 897.5,1513.8 898.7,1514.8 900.5,1517.9 903.1,1522.5 905.1,1524.9 906.8,1523.4 909.0,1520.1 910.6,1517.6 912.0,1515.9 913.8,1514.0 915.2,1513.0 916.5,1514.0 918.2,1515.8 919.8,1516.7 922.2,1514.9 925.5,1512.0 928.0,1510.3 930.0,1511.2 932.5,1513.1 934.4,1514.5 936.6,1514.7 939.5,1514.7 941.8,1514.8 944.3,1515.5 947.6,1516.5 950.0,1517.6 951.8,1519.8 953.9,1522.9 955.5,1524.0 957.2,1520.6 959.4,1514.7 961.0,1510.8 962.5,1510.0 964.3,1510.1 965.6,1511.2 966.5,1515.5 967.5,1522.3 968.4,1526.8 969.4,1528.0 970.9,1528.6 972.0,1528.6 973.0,1527.9 974.3,1526.7 975.7,1525.8 979.0,1525.5 983.7,1525.1 986.7,1524.9 988.5,1524.0 990.1,342.6 991.0,348.3 992.0,354.1 993.0,359.8 993.9,365.2 994.9,371.5 996.1,379.3 997.4,387.4 998.4,394.6 999.5,402.1 1000.7,411.1 1002.0,420.3 1002.9,428.5 1003.8,437.1 1004.7,447.5 1005.5,457.9 1006.3,466.9 1007.2,475.9 1008.2,486.6 1009.3,496.9 1010.2,505.3 1011.0,512.8 1012.0,520.9 1013.0,528.6 1013.8,534.7 1014.5,540.0 1015.3,545.5 1016.2,550.7 1016.9,555.0 1017.8,558.9 1018.9,562.9 1020.0,567.0 1021.0,570.8 1022.0,575.4 1023.3,581.1 1024.5,586.8 1025.5,591.2 1026.5,594.7 1027.7,598.3 1028.9,601.7 1030.1,604.7 1031.5,608.1 1033.4,612.0 1035.3,615.7 1036.8,618.3 1038.1,619.8 1039.4,620.8 1040.7,621.7 1041.8,622.8 1043.0,624.7 1044.5,627.1 1045.9,629.7 1047.0,631.9 1047.8,634.0 1048.6,636.6 1049.5,639.1 1050.4,640.9 1051.7,642.1 1053.5,643.1 1055.4,644.1 1057.2,645.4 1059.2,647.8 1061.7,651.1 1064.2,654.4 1066.2,656.7 1068.0,658.2 1069.8,659.5 1071.6,660.5 1073.0,661.2 1074.1,661.6 1075.2,661.7 1076.3,661.9 1077.5,662.4 1079.2,663.6 1081.3,665.5 1083.5,667.5 1085.4,669.2 1087.4,670.8 1089.8,672.9 1091.9,674.7 1093.3,675.9 1095.0,676.6 1096.7,677.6 1098.5,678.2 1100.2,680.5 1101.9,680.6 1103.6,681.3 1105.3,682.3 1107.0,683.6 1108.7,684.0 1110.4,682.5 1112.1,682.6 1113.8,682.1 1115.5,680.4 1117.2,681.1 1118.9,681.9 1120.7,684.1 1122.4,684.3 1124.1,686.1 1125.8,686.4 1127.5,685.9 1129.2,685.9 1130.9,686.2 1132.6,686.3 1134.3,684.6 1136.0,683.7 1137.7,682.1 1139.4,681.3 1141.1,683.7 1142.8,684.1 1144.6,681.6 1146.3,681.5 1148.0,679.7 1149.7,680.0 1151.4,680.0 1153.1,681.1 1154.8,681.3 1156.5,681.7 1158.2,681.7 1159.9,682.3 1161.6,682.1 1163.3,682.7 1165.0,683.2 1166.7,684.5 1168.5,685.0 1170.2,686.8 1171.9,686.7 1173.6,687.9 1175.3,687.4 1177.0,687.1 1178.7,686.6 1180.4,685.7 1182.1,685.3 1183.8,683.9 1185.5,682.5 1187.2,681.8 1188.9,681.2 1190.6,679.8 1192.4,679.5 1194.1,680.9 1195.8,681.0 1197.5,681.3 1199.2,681.2 1200.9,681.7 1202.6,683.8 1204.3,684.5 1206.0,685.1 1207.7,685.7 1209.4,687.4 1211.1,686.3 1212.8,684.5 1214.6,682.9 1216.3,681.9 1218.0,682.2 1219.7,682.1 1221.4,683.5 1223.1,684.0 1224.8,685.0 1226.5,687.9 1228.2,687.3 1229.9,685.0 1231.6,684.7 1233.3,682.5 1235.0,681.0 1236.7,681.4 1238.5,681.6 1240.2,681.0 1241.9,681.7 1243.6,682.9 1245.3,682.1 1247.0,682.1 1248.7,681.6 1250.4,680.0 1252.1,680.3 1253.8,679.5 1255.5,679.8 1257.2,680.3 1258.9,681.9 1260.6,683.3 1262.4,684.2 1264.1,684.1 1265.8,685.5 1267.5,685.5 1269.2,686.0 1270.9,685.9 1272.6,685.5 1274.3,683.8 1276.0,684.1 1277.7,684.7 1279.4,686.6 1281.1,686.4 1282.8,686.6 1284.6,685.2 1286.3,683.0 1288.0,682.3 1289.7,681.7 1291.4,681.1 1293.1,680.9 1294.8,681.2 1296.5,681.8 1298.2,681.6 1299.9,682.5 1301.6,683.9 1303.3,684.4 1305.0,685.9 1306.7,686.3 1308.5,686.6 1310.2,686.0 1311.9,684.7 1313.6,683.6 1315.3,681.7 1317.0,679.0 1318.7,680.3 1320.4,682.3 1322.1,683.6 1323.8,682.8 1325.5,683.1 1327.2,682.8 1329.7,683.4 1332.0,1514.8 1336.6,1519.4 1338.4,1516.2 1340.3,1512.9 1342.1,1511.2 1345.7,1511.3 1350.7,1512.5 1354.0,1514.5 1354.9,1520.4 1355.3,1529.1 1355.8,1534.1 1357.9,1532.5 1360.9,1528.2 1363.2,1524.9 1364.9,1522.6 1367.0,1519.8 1368.7,1518.5 1370.9,1520.6 1373.9,1524.2 1376.0,1525.8 1377.1,1522.1 1378.2,1515.9 1379.3,1513.0 1381.8,1518.2 1385.3,1527.3 1387.9,1532.3 1389.9,1528.2 1392.3,1520.2 1394.4,1514.8 1397.6,1513.9 1402.2,1513.9 1405.4,1513.9 1407.2,1513.0 1409.1,1511.7 1410.9,1510.8 1413.8,1510.5 1418.0,1510.5 1421.0,1510.8 1422.7,1512.5 1424.6,1515.0 1426.5,1516.7 1430.0,1516.7 1435.0,1516.3 1438.4,1516.3 1439.6,1517.8 1440.4,1520.1 1441.1,1521.3 1442.4,1519.4 1444.2,1516.3 1445.7,1514.8 1447.8,1517.9 1450.8,1523.1 1453.1,1525.8 1455.2,1523.4 1458.0,1518.6 1460.4,1515.8 1463.6,1516.8 1468.0,1519.3 1471.4,1521.3 1474.9,1522.5 1479.3,1523.9 1482.4,1524.9 1484.2,1526.5 1486.2,1528.3 1487.9,1528.6 1490.7,1524.4 1494.5,1517.5 1497.1,1513.0 1498.1,1512.2 1498.9,1512.6 1499.8,1513.6 1502.1,1516.5 1505.6,1521.1 1508.1,1524.0 1509.9,1524.4 1512.1,1524.0 1513.6,1523.1 1514.4,1520.4 1515.4,1516.2 1516.3,1513.0 1518.2,1510.0 1520.9,1506.5 1523.1,1504.8 1525.8,1506.9 1529.4,1511.0 1531.9,1513.9 1533.2,1515.8 1534.4,1517.7 1535.6,1518.5 1537.7,1516.7 1540.7,1513.7 1542.9,1512.1 1544.7,1513.9 1546.8,1517.2 1548.4,1519.4 1549.8,1519.9 1551.5,1520.0 1553.0,1520.3 1554.9,1521.8 1557.5,1523.9 1559.4,1524.9 1560.9,1523.8 1562.7,1521.7 1564.0,1520.3 1565.1,1520.6 1566.7,1521.3 1568.6,1521.3 1573.3,1518.8 1580.3,1515.0 1585.1,1512.6 1587.2,1512.9 1589.0,1514.3 1590.6,1515.8 1593.3,1518.7 1597.0,1522.8 1599.8,1524.9 1602.1,1522.8 1605.0,1518.5 1607.1,1515.8 1608.8,1515.4 1610.9,1515.7 1612.6,1515.8 1614.5,1514.8 1617.1,1513.4 1619.0,1513.0 1621.0,1515.4 1623.5,1519.3 1625.4,1521.3 1627.7,1518.5 1630.7,1513.6 1632.8,1511.2 1633.7,1514.6 1634.5,1520.7 1635.5,1524.0 1638.4,1521.0 1642.6,1515.1 1645.6,1511.2 1647.5,1510.4 1649.6,1510.4 1651.1,1511.2 1652.2,1513.9 1653.5,1518.1 1654.8,1521.3 1657.4,1523.8 1661.2,1526.6 1664.0,1527.7 1666.2,1524.6 1668.8,1519.3 1670.4,1515.8 1672.8,339.2 1673.9,345.9 1675.1,352.7 1676.3,359.2 1677.3,365.2 1678.3,371.7 1679.5,379.5 1680.8,387.5 1681.8,394.6 1682.9,402.1 1684.1,411.1 1685.3,420.3 1686.3,428.5 1687.2,437.2 1688.1,447.7 1689.0,458.2 1689.7,466.9 1690.5,475.1 1691.4,484.3 1692.3,493.3 1693.1,500.8 1693.8,508.1 1694.6,516.4 1695.4,524.2 1696.0,530.2 1696.8,534.5 1697.6,538.6 1698.5,542.5 1699.2,546.0 1699.9,550.1 1700.7,555.1 1701.5,560.1 1702.1,564.1 1702.8,567.6 1703.5,571.5 1704.3,575.0 1705.1,577.6 1706.1,579.3 1707.5,580.6 1709.0,581.9 1710.1,583.3 1710.9,585.1 1711.8,587.5 1712.6,590.3 1713.4,593.4 1714.4,598.2 1715.6,604.9 1716.9,611.4 1718.0,616.0 1719.0,618.7 1720.2,620.7 1721.4,622.3 1722.5,624.0 1723.5,626.1 1724.7,628.7 1725.9,631.2 1727.0,633.0 1728.2,634.1 1729.7,634.9 1731.3,635.6 1732.7,636.4 1734.1,637.5 1735.9,638.9 1737.7,640.5 1739.4,642.0 1741.5,644.1 1744.0,646.7 1746.5,649.3 1748.5,651.1 1749.9,651.9 1751.3,652.2 1752.7,652.6 1754.1,653.3 1755.8,655.2 1757.9,658.0 1760.4,660.7 1763.2,662.4 1767.6,662.8 1773.8,662.6 1779.7,662.1 1783.5,661.8 1785.2,663.8 1786.9,666.0 1788.6,668.6 1790.3,669.1 1792.0,671.2 1793.7,672.6 1795.5,672.8 1797.2,674.8 1798.9,674.6 1800.6,676.1 1802.3,677.9 1804.0,678.3 1805.7,677.2 1807.4,677.2 1809.1,677.1 1810.8,677.0 1812.5,676.6 1814.2,676.1 1815.9,676.6 1817.6,678.0 1819.4,679.4 1821.1,679.9 1822.8,679.6 1824.5,679.5 1826.2,678.8 1827.9,679.3 1829.6,677.3 1831.3,677.9 1833.0,677.9 1834.7,680.5 1836.4,682.1 1838.1,681.1 1839.8,679.2 1841.6,678.6 1843.3,677.7 1845.0,676.4 1846.7,676.7 1848.4,679.6 1850.1,681.1 1851.8,681.1 1853.5,680.4 1855.2,677.6 1856.9,676.4 1858.6,676.4 1860.3,677.1 1862.0,677.6 1863.7,678.1 1865.5,678.3 1867.2,679.0 1868.9,680.7 1870.6,685.8 1872.3,684.3 1874.0,681.9 1875.7,680.8 1877.4,680.5 1879.1,684.2 1880.8,686.5 1882.5,686.8 1884.2,687.9 1885.9,687.0 1887.6,681.8 1889.4,680.0 1891.1,679.5 1892.8,678.9 1894.5,678.2 1896.2,676.7 1897.9,678.4 1899.6,680.0 1901.3,681.4 1903.0,680.7 1904.7,681.0 1906.4,681.5 1908.1,681.6 1909.8,680.9 1911.6,680.1 1913.3,682.3 1915.0,684.1 1916.7,684.7 1918.4,686.1 1920.1,683.2 1921.8,680.2 1923.5,680.3 1925.2,680.1 1926.9,679.0 1928.6,679.5 1930.3,680.7 1932.0,680.1 1933.7,680.1 1935.5,679.2 1937.2,679.5 1938.9,678.5 1940.6,678.8 1942.3,678.7 1944.0,677.8 1945.7,680.6 1947.4,681.8 1949.1,682.7 1950.8,681.9 1952.5,679.7 1954.2,677.9 1955.9,680.7 1957.6,682.9 1959.4,685.7 1961.1,682.6 1962.8,681.1 1964.5,678.5 1966.2,677.8 1967.9,677.9 1969.6,678.5 1971.3,679.5 1973.0,679.9 1974.7,682.1 1976.4,681.8 1978.1,683.7 1979.8,684.8 1981.5,685.8 1983.3,684.8 1985.0,685.1 1986.7,683.5 1988.4,681.5 1990.1,680.7 1991.8,680.1 1993.5,678.7 1995.2,679.9 1996.9,679.2 1998.6,678.4 2000.3,678.1 2002.0,679.5 2003.7,681.3 2005.5,683.0 2007.2,683.6 2008.9,682.9 2010.6,682.0 2012.9,683.4 2014.3,1514.7 2019.0,1525.2 2020.1,1524.8 2021.3,1524.5 2022.4,1524.6 2024.8,1526.2 2028.1,1528.8 2030.5,1530.4 2032.1,1530.7 2033.9,1530.6 2035.2,1529.8 2036.2,1526.4 2037.5,1521.4 2038.6,1518.8 2040.6,1521.4 2043.5,1526.4 2045.6,1529.8 2047.3,1531.0 2049.3,1531.6 2050.8,1531.0 2052.1,1526.9 2053.7,1520.4 2054.9,1515.9 2055.9,1513.9 2057.2,1512.3 2058.3,1511.3 2060.2,1510.9 2062.7,1510.7 2064.7,1510.7 2066.5,1511.4 2068.8,1512.4 2070.5,1513.0 2072.1,1512.5 2074.2,1511.4 2075.7,1511.0 2077.1,1511.8 2079.0,1513.3 2080.3,1514.7 2081.6,1517.1 2083.3,1520.2 2085.0,1521.7 2087.9,1519.4 2092.1,1515.4 2094.8,1513.3 2095.8,1515.8 2096.3,1520.4 2096.6,1523.4 2100.0,1520.5"/>
</g>
<text class="tk" x="169.1" y="1590.5" text-anchor="end">0</text>
<text class="tk" x="169.1" y="1338.1" text-anchor="end">2</text>
<text class="tk" x="169.1" y="1085.7" text-anchor="end">4</text>
<text class="tk" x="169.1" y="833.4" text-anchor="end">6</text>
<text class="tk" x="169.1" y="581.0" text-anchor="end">8</text>
<text class="tk" x="169.1" y="328.6" text-anchor="end">10</text>
<text class="tk" x="169.1" y="76.2" text-anchor="end">12</text>
<text class="tk" x="305.5" y="1672.0" text-anchor="middle">0</text>
<text class="tk" x="647.0" y="1672.0" text-anchor="middle">200</text>
<text class="tk" x="988.4" y="1672.0" text-anchor="middle">400</text>
<text class="tk" x="1329.9" y="1672.0" text-anchor="middle">600</text>
<text class="tk" x="1671.3" y="1672.0" text-anchor="middle">800</text>
<text class="tk" x="2012.8" y="1672.0" text-anchor="middle">1000</text>
<text class="ax" x="1158.7" y="1793.4" text-anchor="middle">Times/s</text>
<text class="ax" transform="translate(87.2,1263) rotate(-90)" x="0" y="0">Photocurrent density/(mA/dm<tspan font-size="54" dy="-32">2</tspan><tspan dy="32">)</tspan></text>
<line x1="964.2" y1="121.4" x2="1068.4" y2="121.4" stroke="#000000" stroke-width="5" stroke-linecap="round"/>
<text class="lg" x="1094" y="140.8">N-TiO<tspan font-size="33" dy="13">2</tspan><tspan dy="-13"> NCs/TiO</tspan><tspan font-size="33" dy="13">2</tspan><tspan dy="-13"> NTs PC</tspan></text>
<line x1="964.2" y1="197.3" x2="1068.4" y2="197.3" stroke="#ff0000" stroke-width="5" stroke-linecap="round"/>
<text class="lg" x="1094" y="216.7">TiO<tspan font-size="33" dy="13">2</tspan><tspan dy="-13"> NCs/TiO</tspan><tspan font-size="33" dy="13">2</tspan><tspan dy="-13"> NTs PC</tspan></text>
<line x1="964.2" y1="273.4" x2="1068.4" y2="273.4" stroke="#5571ff" stroke-width="5" stroke-linecap="round"/>
<text class="lg" x="1094" y="292.8">N-TiO<tspan font-size="33" dy="13">2</tspan><tspan dy="-13"> NCs/TiO</tspan><tspan font-size="33" dy="13">2</tspan><tspan dy="-13"> NTs-AC-GO/PTFE PEC</tspan></text>
</svg>
</body></html>
